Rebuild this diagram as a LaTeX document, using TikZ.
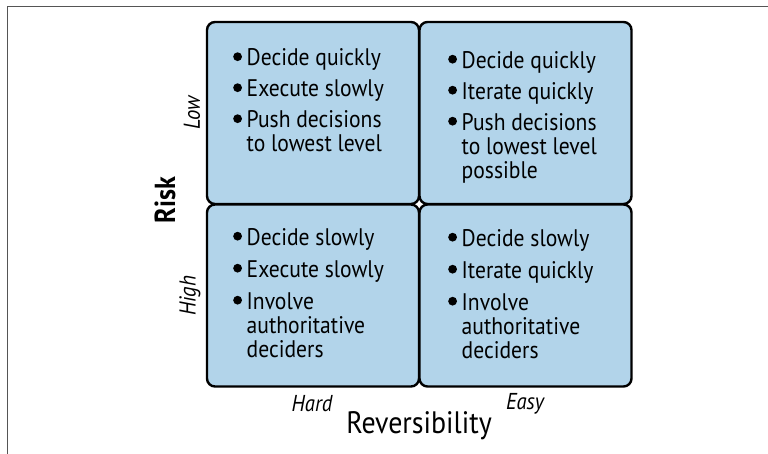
\documentclass[tikz,border=0pt]{standalone}
\usepackage{fontspec}
\setmainfont{PT Sans}[FakeStretch=0.9]
\definecolor{boxblue}{HTML}{B2D4EA}
\definecolor{framegray}{HTML}{555555}
\newcommand{\bul}{\makebox[13.5pt][l]{\tikz[baseline=0pt]\fill[black] (5pt,9pt) circle[radius=4.4pt];}}
\newcommand{\ind}{\hspace*{13.5pt}}
\tikzset{
  quad/.style={draw=black, fill=boxblue, line width=2.4pt, rounded corners=8pt,
    minimum width=212pt, minimum height=182pt, inner sep=0pt},
  txt/.style={anchor=north west, inner sep=0pt, align=left,
    font=\fontsize{24}{24}\selectfont},
  lvl/.style={font=\fontsize{23}{23}\selectfont\itshape, inner sep=0pt},
  axis/.style={font=\fontsize{31}{31}\selectfont, inner sep=0pt}
}
\begin{document}
\begin{tikzpicture}[x=1pt,y=-1pt]
\useasboundingbox (0,0) rectangle (768,454);
\coordinate (fbl) at (7,454);
\coordinate (ftl) at (7,7);
\coordinate (ftr) at (768,7);
\draw[framegray, line width=1pt] (fbl) -- (ftl) -- (ftr);

\node[quad] (tl) at (313,113) {};
\node[quad] (tr) at (525.5,113) {};
\node[quad] (bl) at (313,295.5) {};
\node[quad] (br) at (525.5,295.5) {};

\node[txt] (tltxt) at (233,48.5) {\bul Decide quickly\\[7pt]\bul Execute slowly\\[7pt]\bul Push decisions\\\ind to lowest level};
\node[txt] (trtxt) at (448,51) {\bul Decide quickly\\[7pt]\bul Iterate quickly\\[7pt]\bul Push decisions\\\ind to lowest level\\\ind possible};
\node[txt] (bltxt) at (233,228) {\bul Decide slowly\\[8pt]\bul Execute slowly\\[8pt]\bul Involve\\\ind authoritative\\\ind deciders};
\node[txt] (brtxt) at (448,229) {\bul Decide slowly\\[8pt]\bul Iterate quickly\\[8pt]\bul Involve\\\ind authoritative\\\ind deciders};

\node[lvl, rotate=90] (low) at (192,113) {Low};
\node[lvl, rotate=90] (high) at (190,296) {High};
\node[axis, rotate=90, font=\fontsize{29}{29}\selectfont\bfseries] (risk) at (165,200) {Risk};
\node[lvl] (hard) at (312,404) {Hard};
\node[lvl] (easy) at (525,404) {Easy};
\node[axis] (rev) at (419,426) {Reversibility};
\end{tikzpicture}
\end{document}
